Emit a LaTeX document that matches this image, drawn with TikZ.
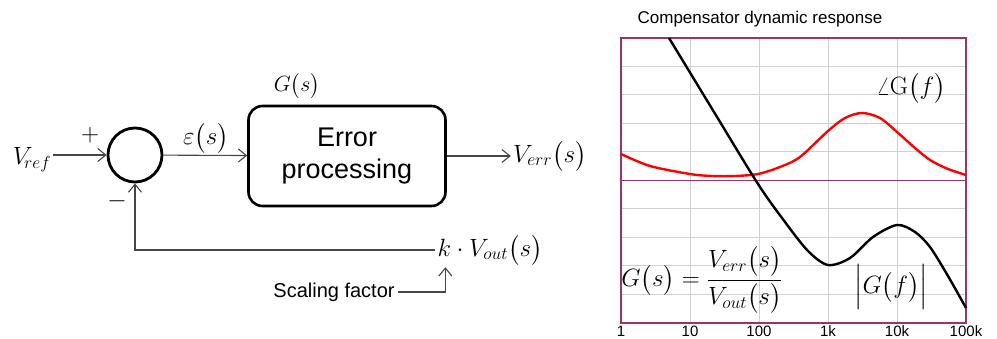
\RequirePackage{fix-cm}
\documentclass[tikz,border=0pt]{standalone}
\usepackage{amsmath}
\usepackage[no-math]{fontspec}
\setmainfont{Liberation Sans}
\usetikzlibrary{arrows.meta,positioning}
\definecolor{plotframe}{RGB}{160,50,100}
\definecolor{wiregray}{RGB}{70,70,70}

\begin{document}
\begin{tikzpicture}[>={Straight Barb[length=8pt,width=13pt]},x=1pt,y=-1pt,
  sig/.style={inner sep=2pt,font=\fontsize{25}{29}\selectfont},
  wire/.style={->,wiregray,line width=1.1pt},
  block/.style={draw,line width=2.6pt,rounded corners=14pt,minimum width=197pt,minimum height=100pt,align=center,font=\fontsize{27}{32}\selectfont},
  sum/.style={draw,circle,line width=2.8pt,minimum size=54pt,inner sep=0pt},
  gridline/.style={black!18,line width=1pt},
  frame/.style={plotframe,line width=1.2pt}]
\useasboundingbox (0,0) rectangle (997,339);
% loop
\node[sum] (sum) at (135,155) {};
\node[block] (err) at (347,156) {Error\\processing};
\node[sig] (vref) at (32,160) {$V_{\!ref}$};
\node[sig] (plus) at (90,135) {$+$};
\node[sig] (minus) at (117,201) {$-$};
\node[sig] (eps) at (206,138) {$\varepsilon\bigl(s\bigr)$};
\node[sig,font=\fontsize{22}{26}\selectfont] (gs) at (297,86) {$G\bigl(s\bigr)$};
\node[sig,right=64pt of err.east,anchor=west] (verr) {$V_{err}\bigl(s\bigr)$};
\node[sig] (kv) at (490,250) {$k\cdot V_{out}\bigl(s\bigr)$};
\node[font=\fontsize{20}{24}\selectfont] (scale) at (334,292) {Scaling factor};
\draw[wire] (vref.east |- sum) -- (sum.west);
\draw[wire] (sum) -- (err);
\draw[wire] (err) -- (verr);
\draw[wire] (kv.west) -| (sum.south);
\draw[wire] (scale.east) -| ([xshift=10pt]kv.south west);
% plot
\node[font=\fontsize{17}{20}\selectfont] (title) at (760,19) {Compensator dynamic response};
\foreach \i in {1,...,4} \draw[gridline] (621+69*\i,38) -- (621+69*\i,323);
\foreach \j in {1,...,9} \draw[gridline] (621,38+28.5*\j) -- (966,38+28.5*\j);
\draw[frame] (621,38) rectangle (966,323);
\draw[frame] (621,180.5) -- (966,180.5);
\foreach \i/\t in {0/1,1/10,2/100,3/1k,4/10k,5/100k}
  \node[font=\fontsize{15}{17}\selectfont,inner sep=0pt] (tick\i) at (621+69*\i,331) {\t};
\draw[red,line width=2.4pt] plot[smooth] coordinates {(621,154) (650,166) (690,174) (712,176) (735,176) (758,174) (780,167) (800,157) (828,131) (845,118) (862,113) (880,118) (897,132) (915,148) (930,160) (948,169) (966,175)};
\draw[black,line width=2.4pt] plot[smooth] coordinates {(669,38) (714,112) (758,184) (785,222) (808,251) (828,265) (850,258) (873,237) (897,225) (915,232) (930,247) (948,276) (966,308)};
\node[sig] (ang) at (911,88) {$\angle\mathrm{G}\bigl(f\bigr)$};
\node[sig] (mag) at (891,287) {$\Bigl|G\bigl(f\bigr)\Bigr|$};
\node[sig] (geq) at (702,280) {$\displaystyle G\bigl(s\bigr)=\frac{V_{err}\bigl(s\bigr)}{V_{out}\bigl(s\bigr)}$};
\end{tikzpicture}
\end{document}
